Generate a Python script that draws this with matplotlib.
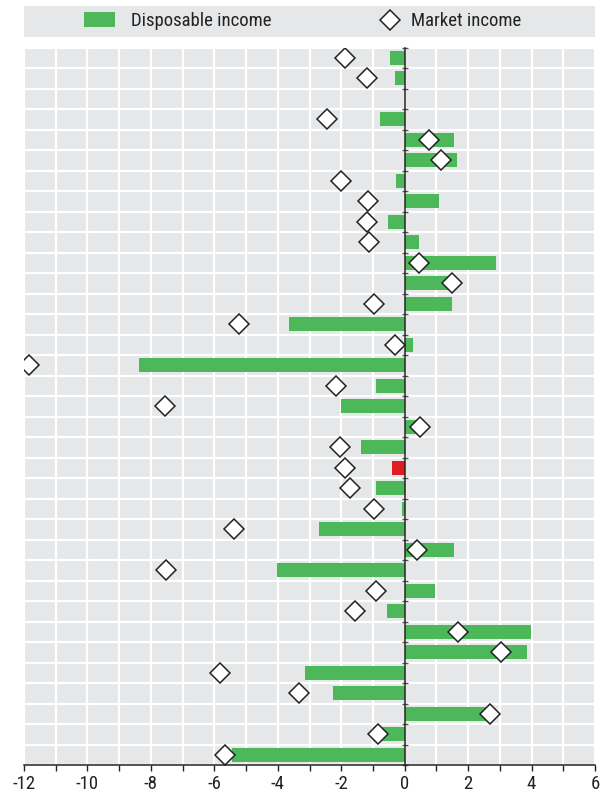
import matplotlib
matplotlib.use('Agg')
import matplotlib.pyplot as plt
from matplotlib.patches import Patch
from matplotlib.lines import Line2D
import numpy as np

plt.rcParams['font.family'] = ['Roboto Condensed', 'Liberation Sans Narrow', 'Roboto', 'DejaVu Sans']
plt.rcParams['axes.unicode_minus'] = False

# rows top to bottom; None = no data
disposable = [-0.45, -0.29, None, -0.79, 1.57, 1.66, -0.26, 1.09, -0.51, 0.46,
              2.88, 1.45, 1.50, -3.65, 0.27, -8.37, -0.89, -2.02, 0.48, -1.37,
              -0.41, -0.91, -0.07, -2.71, 1.56, -4.02, 0.96, -0.57, 3.98, 3.85,
              -3.15, -2.27, 2.71, -0.99, -5.44]
market = [-1.89, -1.20, None, -2.46, 0.78, 1.13, -2.02, -1.16, -1.18, -1.11,
          0.45, 1.48, -0.96, -5.23, -0.30, -11.83, -2.15, -7.54, 0.49, -2.05,
          -1.89, -1.72, -0.96, -5.37, 0.39, -7.51, -0.89, -1.55, 1.67, 3.05,
          -5.83, -3.34, 2.70, -0.84, -5.66]
highlight = 20  # index of the red bar

green = '#4db859'
red = '#e01b22'
bg = '#e6e7e8'
ink = '#222222'
fs = 13.5

n = len(disposable)
ypos = np.arange(n)
disp = np.array([np.nan if v is None else v for v in disposable])
mkt = np.array([np.nan if v is None else v for v in market])
colors = [red if i == highlight else green for i in range(n)]

W, H = 609, 799
fig = plt.figure(figsize=(W/100, H/100), dpi=100)
ax = fig.add_axes([24/W, 1 - 765/H, 571/W, (765-47.5)/H])
ax.set_facecolor(bg)

ax.barh(ypos, np.nan_to_num(disp), height=0.68, color=colors, zorder=2)
ax.plot(mkt, ypos, linestyle='none', marker='D', markersize=10.5,
        markerfacecolor='white', markeredgecolor=ink, markeredgewidth=1.1, zorder=3)

ax.set_xlim(-12, 6)
ax.set_ylim(n - 0.5, -0.5)

ax.set_xticks(np.arange(-12, 7, 2))
ax.set_xticks(np.arange(-11, 6, 2), minor=True)
ax.set_yticks(np.arange(-0.5, n, 1))
ax.set_yticklabels([])
ax.grid(True, which='both', color='white', linewidth=1.6, zorder=1)
ax.set_axisbelow(True)

for s in ['top', 'right']:
    ax.spines[s].set_visible(False)
ax.spines['left'].set_position(('data', 0))
ax.spines['left'].set_color(ink)
ax.spines['left'].set_linewidth(1.1)
ax.spines['left'].set_zorder(4)
ax.spines['bottom'].set_color(ink)
ax.spines['bottom'].set_linewidth(1.1)

ax.tick_params(axis='y', which='both', direction='inout', length=4.5, width=1.0, color='#555555')
ax.tick_params(axis='x', which='both', direction='out', length=4.3, width=1.0, color=ink,
               labelsize=fs, pad=3.0, labelcolor=ink)

# legend band
lax = fig.add_axes([24/W, 1 - 36.5/H, 571/W, 30.5/H])
lax.set_facecolor(bg)
lax.set_xticks([])
lax.set_yticks([])
for s in lax.spines.values():
    s.set_visible(False)

h_disp = Patch(facecolor=green, edgecolor='none')
h_mkt = Line2D([], [], linestyle='none', marker='D', markersize=10.5,
               markerfacecolor='white', markeredgecolor=ink, markeredgewidth=1.1)
leg1 = lax.legend([h_disp], ['Disposable income'], loc='center left',
                  bbox_to_anchor=((84-24)/571, 0.5), frameon=False, fontsize=fs,
                  handlelength=1.65, handleheight=0.85, handletextpad=0.85,
                  borderpad=0, borderaxespad=0, labelcolor=ink)
lax.add_artist(leg1)
lax.legend([h_mkt], ['Market income'], loc='center left',
           bbox_to_anchor=((380.5-24)/571, 0.5), frameon=False, fontsize=fs,
           handlelength=1.0, handletextpad=0.62,
           borderpad=0, borderaxespad=0, labelcolor=ink)

fig.savefig('out.png', dpi=100)
